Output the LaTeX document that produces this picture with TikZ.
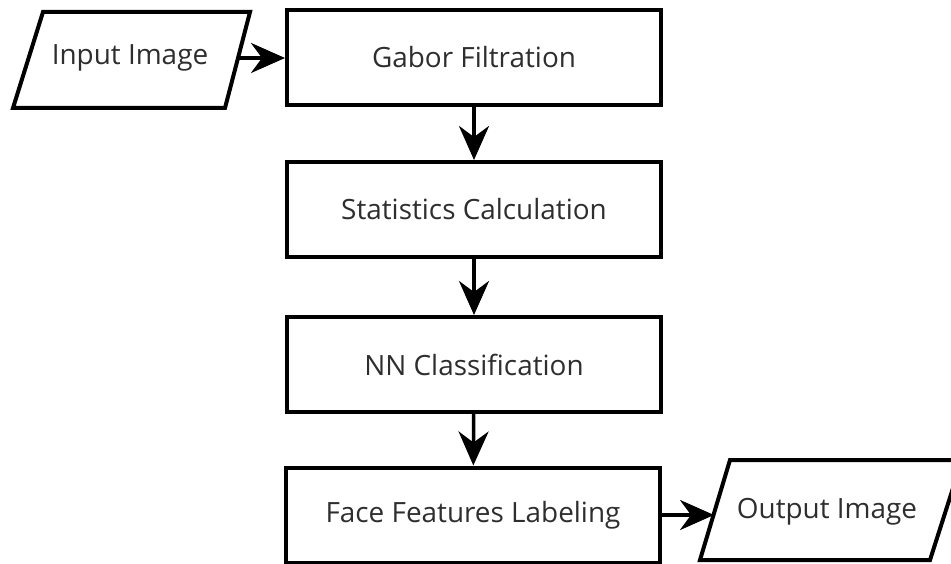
\documentclass[tikz,border=0pt]{standalone}
\usepackage{fontspec}
\setmainfont{Open Sans}
\usetikzlibrary{arrows.meta}
\definecolor{txt}{HTML}{2E2E2E}
\begin{document}
\begin{tikzpicture}[x=1bp,y=-1bp,
  box/.style={draw=black, line width=4bp, minimum width=374bp, minimum height=95bp, inner sep=0pt, font=\fontsize{28}{32}\selectfont, text=txt},
  lbl/.style={inner sep=0pt, font=\fontsize{28}{32}\selectfont, text=txt},
  arr/.style={line width=3.5bp, -{Stealth[length=34bp,width=30bp,inset=11bp]}},
  para/.style={draw=black, line width=4bp, line join=miter}]
\useasboundingbox (0,0) rectangle (951,564);
% input parallelogram
\draw[para] (43,12) -- (250,12) -- (225,108) -- (13,108) -- cycle;
\node[lbl] (in) at (130,58) {Input Image};
\coordinate (inR) at (238,58);
% boxes
\node[box] (gab) at (474,57.5) {Gabor Filtration};
\node[box] (stat) at (474,209.5) {Statistics Calculation};
\node[box] (nn) at (474,364.5) {NN Classification};
\node[box] (face) at (473,515) {Face Features Labeling};
% output parallelogram
\draw[para] (730,460) -- (962,460) -- (930,560) -- (700,560) -- cycle;
\node[lbl] (out) at (827,512) {Output Image};
\coordinate (outL) at (714,515);
% connectors
\draw[arr] (inR) -- (inR -| gab.west);
\draw[arr] (gab) -- (stat);
\draw[arr] (stat) -- (nn);
\draw[arr] (nn) -- (face);
\draw[arr] (face.east) -- (outL);
\end{tikzpicture}
\end{document}
